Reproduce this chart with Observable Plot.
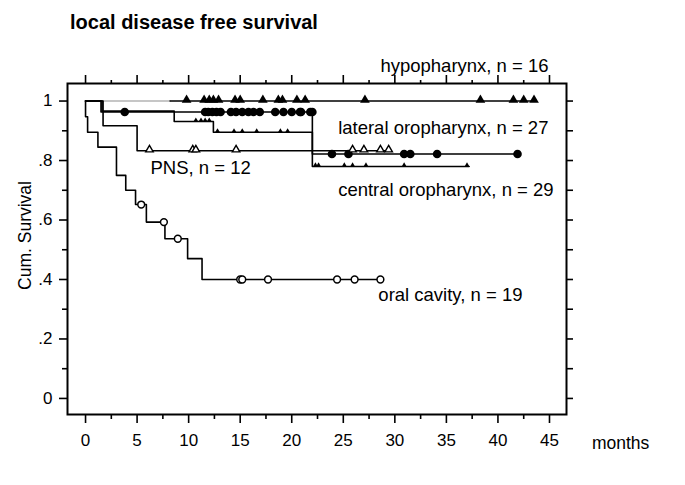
<!DOCTYPE html>
<html><head><meta charset="utf-8">
<script src="https://cdn.jsdelivr.net/npm/d3@7"></script>
<script src="https://cdn.jsdelivr.net/npm/@observablehq/plot@0.6"></script>
<style>
body{margin:0;background:#fff;font-family:"Liberation Sans",Arial,sans-serif;}
#title{height:40px;position:relative;}
#title span{position:absolute;left:70px;top:11px;font-weight:bold;font-size:20px;color:#000;white-space:nowrap;}
</style></head><body>
<div id="title"><span>local disease free survival</span></div>
<div id="chart"></div>
<script>
// ---- data (months, cumulative survival) ----
const hypoTimes = [0, 8.2, 43.5];
const hypoSurv = [1, 1, 1];
const hypoCensor = [9.8, 11.5, 12.0, 12.4, 12.9, 14.5, 15.0, 17.2, 18.7, 19.1, 20.5, 21.3, 27.1, 38.3, 41.5, 42.5, 43.5];

const latTimes = [0, 1.5, 22.0, 41.9];
const latSurv = [1, 0.963, 0.822, 0.822];
const latCensor = [3.8, 11.6, 11.9, 12.3, 12.7, 13.1, 14.1, 14.6, 15.2, 15.8, 16.3, 16.9, 18.4, 19.2, 20.0, 20.8, 20.9, 21.8, 22.0, 23.9, 25.5, 30.9, 31.5, 34.1, 41.9];

const cenTimes = [0, 1.6, 8.6, 12.4, 22.0, 37.2];
const cenSurv = [1, 0.966, 0.931, 0.895, 0.78, 0.78];
const cenCensor = [10.7, 11.2, 11.6, 12.0, 12.8, 14.4, 15.2, 16.6, 18.9, 19.6, 22.3, 22.6, 25.1, 25.9, 27.2, 30.9, 37.0];

const pnsTimes = [0, 1.7, 5.0, 29.4];
const pnsSurv = [1, 0.917, 0.833, 0.833];
const pnsCensor = [6.2, 10.4, 10.7, 14.6, 25.9, 27.0, 28.6, 29.4];

const oralTimes = [0, 0, 0.2, 1.2, 3.0, 3.9, 4.85, 5.9, 7.7, 9.9, 11.3, 28.6];
const oralSurv = [1, 0.947, 0.895, 0.845, 0.75, 0.70, 0.652, 0.593, 0.537, 0.47, 0.40, 0.40];
const oralCensor = [5.4, 7.6, 8.95, 15.0, 15.2, 17.7, 24.4, 26.1, 28.6];

const groupNames = ["hypopharynx, n = 16", "lateral oropharynx, n = 27", "central oropharynx, n = 29", "PNS, n = 12", "oral cavity, n = 19"];
const xTicks = [0, 5, 10, 15, 20, 25, 30, 35, 40, 45];
const xTickLabels = ["0", "5", "10", "15", "20", "25", "30", "35", "40", "45"];
const xMinorTicks = [2.5, 7.5, 12.5, 17.5, 22.5, 27.5, 32.5, 37.5, 42.5];
const yTicks = [0, 0.2, 0.4, 0.6, 0.8, 1];
const yTickLabels = ["0", ".2", ".4", ".6", ".8", "1"];
const yMinorTicks = [0.1, 0.3, 0.5, 0.7, 0.9];
const yAllTicks = [0, 0.1, 0.2, 0.3, 0.4, 0.5, 0.6, 0.7, 0.8, 0.9, 1];
const xLabel = "months";
const yLabel = "Cum. Survival";

// label placement (data coordinates)
const labelX = [28.6, 24.5, 24.5, 6.3, 28.4];
const labelY = [1.116, 0.908, 0.699, 0.773, 0.346];
const hypoGrayUntil = 8.2;

// ---- helpers ----
function curve(times, surv) { return times.map((t, i) => ({t, s: surv[i]})); }
function level(times, surv, t) {
  let v = surv[0];
  for (let i = 1; i < times.length; i++) if (times[i] < t) v = surv[i];
  return v;
}
function censor(times, surv, cs) { return cs.map(t => ({t, s: level(times, surv, t)})); }

const hypoLine = curve(hypoTimes, hypoSurv);
const hypoGray = hypoLine.filter(d => d.t <= hypoGrayUntil);
const hypoBlack = hypoLine.filter(d => d.t >= hypoGrayUntil);
const lat = curve(latTimes, latSurv), cen = curve(cenTimes, cenSurv), pns = curve(pnsTimes, pnsSurv), oral = curve(oralTimes, oralSurv);
const labels = groupNames.map((n, i) => ({n, x: labelX[i], y: labelY[i]}));

const lw = 1.6;
const chart = Plot.plot({
  width: 685, height: 445,
  marginLeft: 67, marginRight: 119, marginTop: 43, marginBottom: 71,
  x: {domain: [-1.75, 46.65]},
  y: {domain: [-0.054, 1.059]},
  style: {fontFamily: "'Liberation Sans', Arial, sans-serif", fontSize: "17px", color: "#000", background: "#fff", overflow: "visible"},
  marks: [
    Plot.axisX(xTicks, {anchor: "bottom", tickSize: 9, tickPadding: 10, strokeWidth: 1.6, tickFormat: (d, i) => xTickLabels[i], label: null, fontSize: 17}),
    Plot.axisX(xMinorTicks, {anchor: "bottom", tickSize: 5, strokeWidth: 1.6, tickFormat: () => "", label: null}),
    Plot.axisX(xTicks, {anchor: "top", tickSize: 9, strokeWidth: 1.6, tickFormat: () => "", label: null}),
    Plot.axisX(xMinorTicks, {anchor: "top", tickSize: 4, strokeWidth: 1.6, tickFormat: () => "", label: null}),
    Plot.axisY(yTicks, {anchor: "left", tickSize: 8, tickPadding: 7, strokeWidth: 1.6, tickFormat: (d, i) => yTickLabels[i], label: null, fontSize: 17}),
    Plot.axisY(yMinorTicks, {anchor: "left", tickSize: 5, strokeWidth: 1.6, tickFormat: () => "", label: null}),
    Plot.axisY(yAllTicks, {anchor: "right", tickSize: 6, strokeWidth: 1.6, tickFormat: () => "", label: null}),
    Plot.frame({stroke: "#000", strokeWidth: 2}),
    // curves
    Plot.line(hypoGray, {x: "t", y: "s", stroke: "#b4b4b4", strokeWidth: lw}),
    Plot.line(hypoBlack, {x: "t", y: "s", stroke: "#000", strokeWidth: lw}),
    Plot.line(lat, {x: "t", y: "s", curve: "step-after", stroke: "#000", strokeWidth: lw}),
    Plot.line(cen, {x: "t", y: "s", curve: "step-after", stroke: "#000", strokeWidth: lw}),
    Plot.line(pns, {x: "t", y: "s", curve: "step-after", stroke: "#000", strokeWidth: lw}),
    Plot.line(oral, {x: "t", y: "s", curve: "step-after", stroke: "#000", strokeWidth: lw}),
    // censor marks
    Plot.dot(censor(hypoTimes, hypoSurv, hypoCensor), {x: "t", y: "s", symbol: "triangle", r: 3.6, fill: "#000", stroke: "none", dy: -1}),
    Plot.dot(censor(latTimes, latSurv, latCensor), {x: "t", y: "s", symbol: "circle", r: 4.3, fill: "#000", stroke: "none"}),
    Plot.dot(censor(cenTimes, cenSurv, cenCensor), {x: "t", y: "s", symbol: "triangle", r: 2.0, fill: "#000", stroke: "none", dy: -1}),
    Plot.dot(censor(pnsTimes, pnsSurv, pnsCensor), {x: "t", y: "s", symbol: "triangle", r: 2.8, fill: "#fff", stroke: "#000", strokeWidth: 1.4, dy: -1}),
    Plot.dot(censor(oralTimes, oralSurv, oralCensor), {x: "t", y: "s", symbol: "circle", r: 3.4, fill: "#fff", stroke: "#000", strokeWidth: 1.5}),
    // labels
    Plot.text(labels, {x: "x", y: "y", text: "n", textAnchor: "start", fontSize: 18.5, fill: "#000"}),
    Plot.text([yLabel], {x: -5.87, y: 0.548, text: d => d, rotate: -90, fontSize: 17.5, fill: "#000"}),
    Plot.text([xLabel], {x: 51.9, y: -0.151, text: d => d, fontSize: 17.5, fill: "#000"})
  ]
});
document.getElementById("chart").appendChild(chart);
</script></body></html>
